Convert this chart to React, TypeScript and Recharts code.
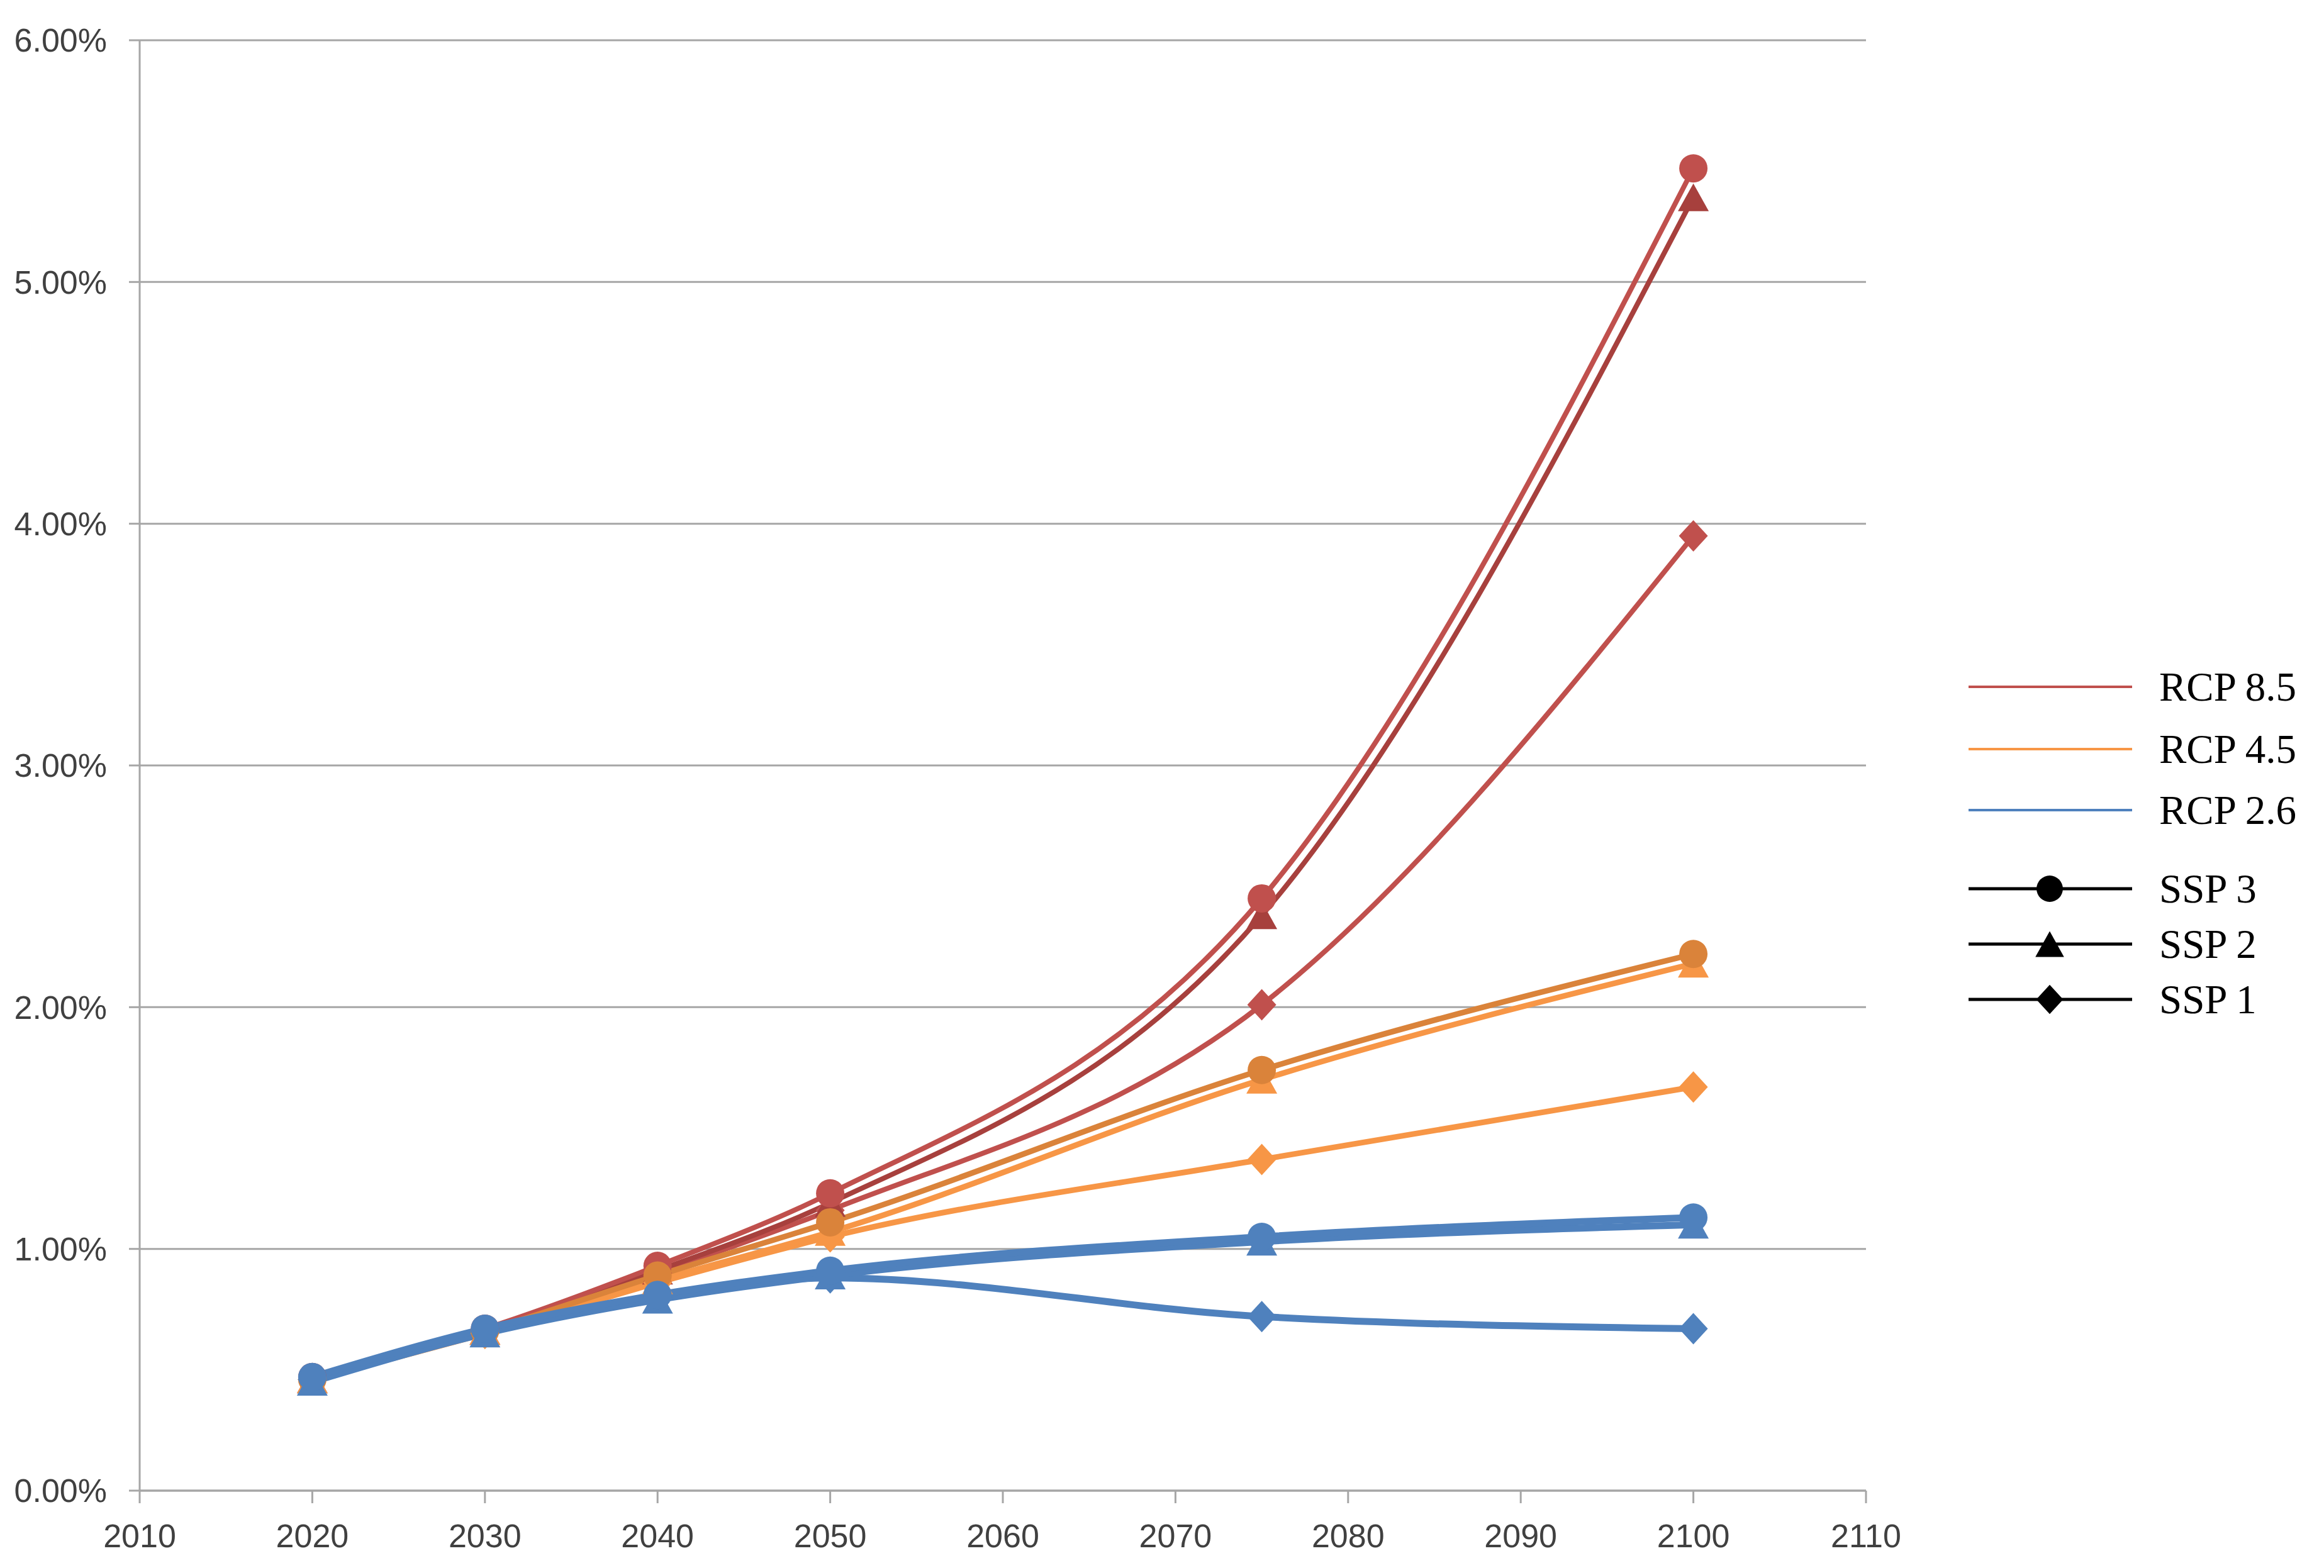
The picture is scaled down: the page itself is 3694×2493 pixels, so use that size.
import React from "react";
import {
  LineChart,
  Line,
  XAxis,
  YAxis,
  CartesianGrid,
} from "recharts";

/* ---------- data (percent) ---------- */

const YEARS = [2020, 2030, 2040, 2050, 2075, 2100];
const X_TICKS = [2010, 2020, 2030, 2040, 2050, 2060, 2070, 2080, 2090, 2100, 2110];
const Y_TICKS = [0, 1, 2, 3, 4, 5, 6];

const RCP85_SSP3 = [0.47, 0.67, 0.93, 1.23, 2.45, 5.47];
const RCP85_SSP2 = [0.46, 0.66, 0.91, 1.19, 2.38, 5.35];
const RCP85_SSP1 = [0.46, 0.66, 0.9, 1.16, 2.01, 3.95];
const RCP45_SSP3 = [0.46, 0.66, 0.89, 1.11, 1.74, 2.22];
const RCP45_SSP2 = [0.46, 0.66, 0.87, 1.07, 1.7, 2.18];
const RCP45_SSP1 = [0.46, 0.65, 0.86, 1.05, 1.37, 1.67];
const RCP26_SSP3 = [0.47, 0.67, 0.81, 0.91, 1.05, 1.13];
const RCP26_SSP2 = [0.45, 0.65, 0.79, 0.89, 1.03, 1.1];
const RCP26_SSP1 = [0.46, 0.66, 0.8, 0.88, 0.72, 0.67];

const RCP_LABELS = ["RCP 8.5", "RCP 4.5", "RCP 2.6"];
const SSP_LABELS = ["SSP 3", "SSP 2", "SSP 1"];

const data = YEARS.map((year, i) => ({
  year,
  r85s1: RCP85_SSP1[i],
  r85s2: RCP85_SSP2[i],
  r85s3: RCP85_SSP3[i],
  r45s1: RCP45_SSP1[i],
  r45s2: RCP45_SSP2[i],
  r45s3: RCP45_SSP3[i],
  r26s1: RCP26_SSP1[i],
  r26s2: RCP26_SSP2[i],
  r26s3: RCP26_SSP3[i],
}));

/* ---------- colours ---------- */

const RED = "#C0504D";
const RED_DARK = "#A7403D";
const ORANGE = "#F79646";
const ORANGE_DARK = "#DA833A";
const BLUE = "#4F81BD";
const GRID = "#A6A6A6";

type Shape = "circle" | "triangle" | "diamond";

// draw shape centred at (cx, cy)
function marker(shape: Shape, cx: number, cy: number, fill: string, key?: any, k = 1) {
  if (shape === "circle") {
    return <circle key={key} cx={cx} cy={cy} r={22.5 * k} fill={fill} />;
  }
  if (shape === "triangle") {
    const w = 49 * k;
    const h = 44 * k;
    const pts = `${cx},${cy - h / 2} ${cx + w / 2},${cy + h / 2} ${cx - w / 2},${cy + h / 2}`;
    return <polygon key={key} points={pts} fill={fill} />;
  }
  const sx = 23 * k;
  const sy = 25 * k;
  const pts = `${cx},${cy - sy} ${cx + sx},${cy} ${cx},${cy + sy} ${cx - sx},${cy}`;
  return <polygon key={key} points={pts} fill={fill} />;
}

const makeDot = (shape: Shape, fill: string) => (props: any) => {
  const { cx, cy, index } = props;
  if (cx == null || cy == null) return <g key={index} />;
  return marker(shape, cx, cy, fill, index);
};

const SERIES: { key: string; color: string; shape: Shape; width: number }[] = [
  { key: "r85s1", color: RED, shape: "diamond", width: 8 },
  { key: "r85s2", color: RED_DARK, shape: "triangle", width: 8 },
  { key: "r85s3", color: RED, shape: "circle", width: 8 },
  { key: "r45s1", color: ORANGE, shape: "diamond", width: 9 },
  { key: "r45s2", color: ORANGE, shape: "triangle", width: 9 },
  { key: "r45s3", color: ORANGE_DARK, shape: "circle", width: 9 },
  { key: "r26s1", color: BLUE, shape: "diamond", width: 11 },
  { key: "r26s2", color: BLUE, shape: "triangle", width: 11 },
  { key: "r26s3", color: BLUE, shape: "circle", width: 11 },
];

const tickStyle = {
  fontSize: 52,
  fill: "#404040",
  fontFamily: "'Liberation Sans', Arial, sans-serif",
};

/* ---------- legend ---------- */

function SideLegend() {
  const rcpColors = [RED, ORANGE, BLUE];
  const rcpY = [42, 141, 238];
  const sspY = [363, 451, 539];
  const sspShapes: Shape[] = ["circle", "triangle", "diamond"];
  const font = "'Liberation Serif', 'Times New Roman', serif";
  return (
    <svg
      width={565}
      height={600}
      style={{ position: "absolute", left: 3129, top: 1050 }}
    >
      {RCP_LABELS.map((label, i) => (
        <g key={label}>
          <line x1={0} x2={260} y1={rcpY[i]} y2={rcpY[i]} stroke={rcpColors[i]} strokeWidth={4} />
          <text x={303} y={rcpY[i] + 22} fontSize={65} fontFamily={font} fill="#000">
            {label}
          </text>
        </g>
      ))}
      {SSP_LABELS.map((label, i) => (
        <g key={label}>
          <line x1={0} x2={260} y1={sspY[i]} y2={sspY[i]} stroke="#000" strokeWidth={5} />
          {marker(sspShapes[i], 129, sspY[i], "#000", undefined, 0.93)}
          <text x={303} y={sspY[i] + 22} fontSize={65} fontFamily={font} fill="#000">
            {label}
          </text>
        </g>
      ))}
    </svg>
  );
}

export default function App() {
  return (
    <div
      style={{
        position: "absolute",
        left: 0,
        top: 0,
        width: 3694,
        height: 2493,
        background: "#fff",
      }}
    >
      <LineChart
        width={3694}
        height={2493}
        data={data}
        margin={{ top: 64, right: 728, left: 0, bottom: 0 }}
      >
        <CartesianGrid vertical={false} stroke={GRID} strokeWidth={3} />
        <XAxis
          dataKey="year"
          type="number"
          domain={[2010, 2110]}
          ticks={X_TICKS}
          interval={0}
          height={123}
          tick={tickStyle}
          tickSize={20}
          tickMargin={33}
          axisLine={{ stroke: GRID, strokeWidth: 3 }}
          tickLine={{ stroke: GRID, strokeWidth: 3 }}
        />
        <YAxis
          type="number"
          domain={[0, 6]}
          ticks={Y_TICKS}
          interval={0}
          width={222}
          tick={tickStyle}
          tickSize={17}
          tickMargin={35}
          tickFormatter={(v: number) => `${v.toFixed(2)}%`}
          axisLine={{ stroke: GRID, strokeWidth: 3 }}
          tickLine={{ stroke: GRID, strokeWidth: 3 }}
        />
        {SERIES.map((s) => (
          <Line
            key={s.key}
            type="monotone"
            dataKey={s.key}
            stroke={s.color}
            strokeWidth={s.width}
            dot={makeDot(s.shape, s.color)}
            activeDot={false}
            isAnimationActive={false}
          />
        ))}
      </LineChart>
      <SideLegend />
    </div>
  );
}
